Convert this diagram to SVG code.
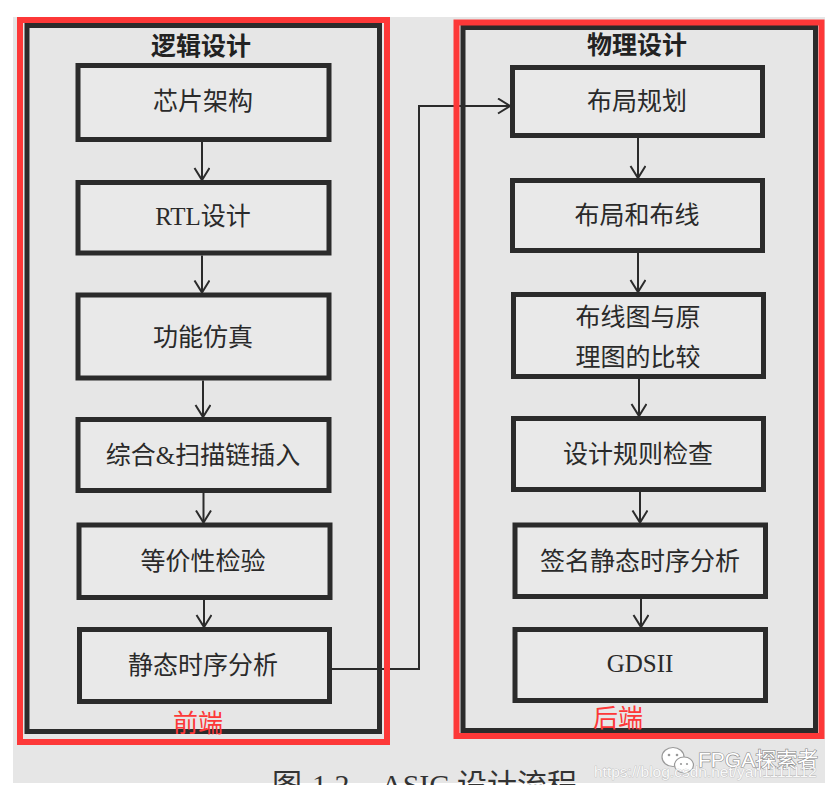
<svg xmlns="http://www.w3.org/2000/svg" width="833" height="785" viewBox="0 0 833 785">
<style>
.bg{fill:#e6e6e6}
.box{fill:#e9e9e9;stroke:#2b2b2b;stroke-width:5}
.outer{fill:none;stroke:#2b2b2b;stroke-width:5}
.red{fill:none;stroke:#fd3838;stroke-width:6}
.lbl{font-family:"Liberation Serif","Noto Sans CJK SC",serif;font-size:25px;fill:#2a2a2a;text-anchor:middle;dominant-baseline:central}
.ttl{font-family:"Noto Sans CJK SC",sans-serif;font-weight:bold;font-size:25px;fill:#222;text-anchor:middle;dominant-baseline:central}
.rl{font-family:"Noto Sans CJK SC",sans-serif;font-size:25px;fill:#fd3838;text-anchor:middle;dominant-baseline:central}
.conn{fill:none;stroke:#2b2b2b;stroke-width:2}
.cap{font-family:"Liberation Serif","Noto Sans CJK SC",serif;font-size:30px;fill:#333}
</style>
<defs>
<marker id="ah" markerUnits="userSpaceOnUse" markerWidth="16" markerHeight="18" refX="13" refY="8" orient="auto" viewBox="0 0 16 18">
<path d="M1,0.5 L13,8 L1,15.5" fill="none" stroke="#2b2b2b" stroke-width="2"/>
</marker>
</defs>
<rect x="0" y="0" width="833" height="785" fill="#ffffff"/>
<rect class="bg" x="13" y="17" width="812" height="766"/>

<g id="caption">
<text class="cap" y="795"><tspan x="272">图</tspan><tspan x="312">1.2</tspan><tspan x="381">ASIC</tspan><tspan x="457">设计流程</tspan></text>
</g>

<g id="frontend">
<rect class="outer" x="27" y="25.5" width="352.5" height="706"/>
<text class="ttl" x="201" y="44">逻辑设计</text>
</g>
<g id="backend">
<rect class="outer" x="463" y="27.5" width="352.5" height="703"/>
<text class="ttl" x="637" y="43">物理设计</text>
</g>

<g id="n1"><rect class="box" x="78" y="65.5" width="251" height="74"/><text class="lbl" x="203" y="101.5">芯片架构</text></g>
<g id="n2"><rect class="box" x="78" y="182.5" width="251" height="70.5"/><text class="lbl" x="203" y="216.5">RTL设计</text></g>
<g id="n3"><rect class="box" x="78" y="295" width="251" height="83"/><text class="lbl" x="203" y="337">功能仿真</text></g>
<g id="n4"><rect class="box" x="78" y="419.5" width="251" height="71"/><text class="lbl" x="203" y="455">综合&amp;扫描链插入</text></g>
<g id="n5"><rect class="box" x="79" y="525" width="251" height="72.5"/><text class="lbl" x="203" y="561.5">等价性检验</text></g>
<g id="n6"><rect class="box" x="79.5" y="629.5" width="250" height="72"/><text class="lbl" x="203" y="665">静态时序分析</text></g>

<g id="m1"><rect class="box" x="512.5" y="67.5" width="250" height="68"/><text class="lbl" x="637" y="101">布局规划</text></g>
<g id="m2"><rect class="box" x="512.5" y="180.5" width="250" height="70"/><text class="lbl" x="637" y="215">布局和布线</text></g>
<g id="m3"><rect class="box" x="513.5" y="294.5" width="250" height="82"/><text class="lbl" x="638" y="317">布线图与原</text><text class="lbl" x="638" y="357">理图的比较</text></g>
<g id="m4"><rect class="box" x="513.5" y="418.5" width="250" height="71"/><text class="lbl" x="638" y="454">设计规则检查</text></g>
<g id="m5"><rect class="box" x="515" y="525" width="250.5" height="71.5"/><text class="lbl" x="640" y="561">签名静态时序分析</text></g>
<g id="m6"><rect class="box" x="515" y="629.5" width="250.5" height="71"/><text class="lbl" x="640" y="663.5">GDSII</text></g>

<g id="connectors">
<path class="conn" d="M202,142 V180" marker-end="url(#ah)"/>
<path class="conn" d="M202,255.5 V292.5" marker-end="url(#ah)"/>
<path class="conn" d="M203,380.5 V417" marker-end="url(#ah)"/>
<path class="conn" d="M203.5,493 V522.5" marker-end="url(#ah)"/>
<path class="conn" d="M204,600 V627" marker-end="url(#ah)"/>
<path class="conn" d="M638,138 V178" marker-end="url(#ah)"/>
<path class="conn" d="M638,253 V292" marker-end="url(#ah)"/>
<path class="conn" d="M639,379 V416" marker-end="url(#ah)"/>
<path class="conn" d="M640,492 V522.5" marker-end="url(#ah)"/>
<path class="conn" d="M641,599 V627" marker-end="url(#ah)"/>
<path class="conn" d="M332,669 H419 V106 H510" marker-end="url(#ah)"/>
</g>

<g id="annotations">
<rect class="red" x="20" y="20" width="367" height="722"/>
<rect class="red" x="456.5" y="22.5" width="365" height="713.5"/>
<text class="rl" x="198" y="721">前端</text>
<text class="rl" x="618" y="716">后端</text>
</g>

<g id="watermark">
<ellipse cx="673" cy="757" rx="11" ry="9.5" fill="#fff" stroke="#9a9a9a" stroke-width="1.2"/>
<ellipse cx="684" cy="765" rx="9.5" ry="8" fill="#fff" stroke="#9a9a9a" stroke-width="1.2"/>
<circle cx="669" cy="755" r="1.3" fill="#9a9a9a"/>
<circle cx="677" cy="755" r="1.3" fill="#9a9a9a"/>
<circle cx="681" cy="764" r="1.1" fill="#9a9a9a"/>
<circle cx="687" cy="764" r="1.1" fill="#9a9a9a"/>
<text x="698" y="767" font-family="'Liberation Sans','Noto Sans CJK SC',sans-serif" font-size="21" fill="#ffffff" stroke="#8a8a8a" stroke-width="1.2" paint-order="stroke">FPGA探索者</text>
<text x="594" y="777" font-family="'Liberation Sans',sans-serif" font-size="15.5" fill="#ffffff" fill-opacity="0.9" stroke="#b0b0b0" stroke-width="0.6" paint-order="stroke">https://blog.csdn.net/yan1111112</text>
</g>
</svg>
